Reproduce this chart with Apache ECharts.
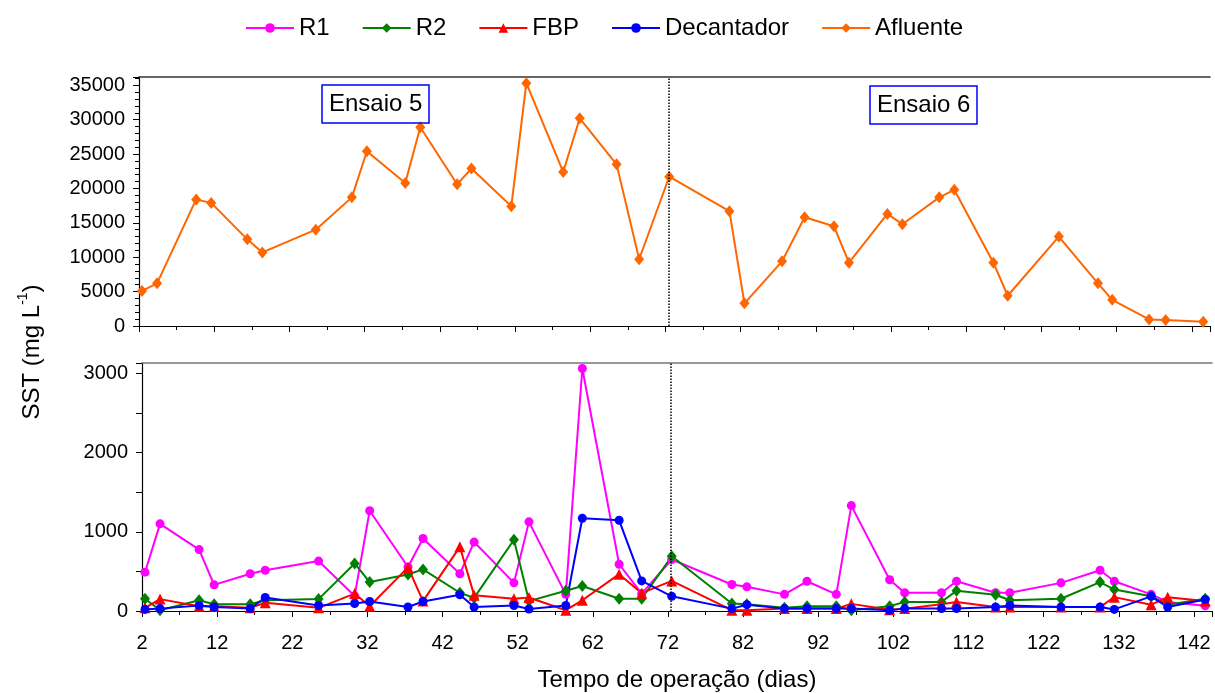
<!DOCTYPE html>
<html>
<head>
<meta charset="utf-8">
<script src="https://cdn.jsdelivr.net/npm/echarts@6/dist/echarts.min.js"></script>
<style>
html,body{margin:0;padding:0;background:#fff;}
#chart{width:1215px;height:693px;}
</style>
</head>
<body>
<div id="chart"></div>
<script>
// ---- data ----
const days = [2.4, 4.4, 9.6, 11.6, 16.4, 18.4, 25.5, 30.3, 32.3, 37.4, 39.4, 44.3, 46.2, 51.5, 53.5, 58.4, 60.6, 65.5, 68.5, 72.5,
              80.5, 82.5, 87.5, 90.5, 94.4, 96.4, 101.5, 103.5, 108.4, 110.4, 115.6, 117.5, 124.3, 129.5, 131.4, 136.3, 138.5, 143.5];
const afluente = [5100, 6200, 18400, 17900, 12600, 10700, 14000, 18700, 25400, 20800, 28900, 20600, 22900, 17400, 35300, 22400, 30200, 23500, 9700, 21700,
                  16700, 3300, 9400, 15800, 14500, 9200, 16300, 14800, 18700, 19800, 9200, 4400, 13000, 6200, 3800, 950, 870, 630];
const r1 = [490, 1100, 775, 330, 470, 515, 630, 190, 1265, 555, 915, 470, 870, 355, 1125, 210, 3060, 590, 220, 650,
            335, 305, 210, 375, 210, 1330, 395, 230, 230, 375, 230, 230, 355, 515, 375, 210, 115, 65];
const r2 = [155, 10, 135, 85, 85, 135, 150, 600, 365, 460, 525, 230, 165, 900, 125, 255, 315, 155, 155, 690,
            95, 85, 40, 60, 60, 10, 60, 115, 115, 255, 205, 135, 155, 365, 270, 185, 80, 155];
const fbp = [40, 150, 60, 60, 40, 105, 40, 220, 60, 550, 125, 810, 200, 155, 170, 10, 135, 465, 225, 380,
             10, 10, 30, 30, 30, 90, 15, 30, 85, 115, 50, 50, 50, 50, 175, 80, 175, 125];
const decantador = [20, 30, 70, 50, 30, 170, 70, 95, 120, 50, 120, 205, 50, 70, 25, 70, 1170, 1145, 380, 185,
                    30, 80, 30, 30, 30, 30, 10, 30, 30, 30, 50, 70, 50, 50, 20, 185, 50, 145];
const boundaryDay = 72.4;
const phaseLabels = ['Ensaio 5', 'Ensaio 6'];
const seriesNames = ['R1', 'R2', 'FBP', 'Decantador', 'Afluente'];

// ---- chart ----
const FONT = 'Liberation Sans, Arial, sans-serif';
const pairs = arr => days.map((d, i) => [d, arr[i]]);
const chart = echarts.init(document.getElementById('chart'), null, {renderer: 'canvas'});

const xCommon = {
  type: 'value', min: 2, max: 144.4, interval: 10,
  axisLine: {show: true, onZero: false, lineStyle: {color: '#000', width: 1.2}},
  axisTick: {show: true, length: 6, lineStyle: {color: '#000'}},
  minorTick: {show: true, splitNumber: 2, length: 4, lineStyle: {color: '#000'}},
  splitLine: {show: false}, minorSplitLine: {show: false}
};
const xLabelFmt = v => {
  const k = (v - 2) / 10;
  return Math.abs(k - Math.round(k)) < 1e-6 ? String(Math.round(v)) : '';
};
const frameAxis = (gi, color) => ({
  type: 'value', gridIndex: gi, position: 'top', min: 2, max: 144.4,
  axisLine: {show: true, onZero: false, lineStyle: {color: color, width: 1.5}},
  axisTick: {show: false}, axisLabel: {show: false}, splitLine: {show: false}
});
const dotted = {
  symbol: 'none', silent: true, label: {show: false},
  lineStyle: {type: 'dotted', color: '#000', width: 1.5},
  emphasis: {disabled: true},
  data: [{xAxis: boundaryDay}]
};
const lineSeries = (name, data, color, symbol, size, xi, yi, extra) => Object.assign({
  name: name, type: 'line', xAxisIndex: xi, yAxisIndex: yi, data: pairs(data),
  symbol: symbol, symbolSize: size, showAllSymbol: true,
  lineStyle: {color: color, width: 2}, itemStyle: {color: color},
  animation: false
}, extra || {});

chart.setOption({
  backgroundColor: '#fff',
  animation: false,
  textStyle: {fontFamily: FONT},
  title: [
    {text: phaseLabels[0], left: 322, top: 85, borderColor: '#0000FF', borderWidth: 1.5,
     padding: [6, 7, 6, 7], textStyle: {fontSize: 24, fontWeight: 'normal', color: '#000', fontFamily: FONT, lineHeight: 26}},
    {text: phaseLabels[1], left: 870, top: 86, borderColor: '#0000FF', borderWidth: 1.5,
     padding: [6, 7, 6, 7], textStyle: {fontSize: 24, fontWeight: 'normal', color: '#000', fontFamily: FONT, lineHeight: 26}}
  ],
  legend: {
    data: seriesNames, left: 240, top: 11, itemWidth: 48, itemHeight: 12, itemGap: 32,
    textStyle: {fontSize: 24, color: '#000', fontFamily: FONT}
  },
  grid: [
    {left: 139, width: 1071, top: 77, height: 249},
    {left: 142, width: 1071, top: 363, height: 248}
  ],
  xAxis: [
    Object.assign({}, xCommon, {gridIndex: 0, axisLabel: {show: false}}),
    Object.assign({}, xCommon, {gridIndex: 1,
      axisLabel: {show: true, formatter: xLabelFmt, margin: 22, fontSize: 20, color: '#000', fontFamily: FONT},
      name: 'Tempo de operação (dias)', nameLocation: 'middle', nameGap: 57,
      nameTextStyle: {fontSize: 24, color: '#000', fontFamily: FONT}}),
    frameAxis(0, '#333'),
    frameAxis(1, '#777')
  ],
  yAxis: [
    {type: 'value', gridIndex: 0, min: 0, max: 36200, interval: 5000,
     axisLine: {show: true, onZero: false, lineStyle: {color: '#000', width: 1.2}},
     axisTick: {show: true, length: 6, lineStyle: {color: '#000'}},
     minorTick: {show: true, splitNumber: 5, length: 4, lineStyle: {color: '#000'}},
     splitLine: {show: false},
     axisLabel: {fontSize: 20, color: '#000', margin: 14, fontFamily: FONT,
                 formatter: v => (v % 5000 === 0 ? String(v) : '')}},
    {type: 'value', gridIndex: 1, min: 0, max: 3130, interval: 1000,
     axisLine: {show: true, onZero: false, lineStyle: {color: '#000', width: 1.2}},
     axisTick: {show: true, length: 6, lineStyle: {color: '#000'}},
     minorTick: {show: true, splitNumber: 2, length: 6, lineStyle: {color: '#000'}},
     splitLine: {show: false},
     axisLabel: {fontSize: 20, color: '#000', margin: 14, fontFamily: FONT,
                 formatter: v => (v % 1000 === 0 ? String(v) : '')}}
  ],
  graphic: [{
    type: 'text', x: 30, y: 352, rotation: Math.PI / 2,
    style: {
      text: '{n|SST (mg L}{s|-1}{n|)}',
      textAlign: 'center', textVerticalAlign: 'middle',
      rich: {
        n: {fontSize: 24, fontFamily: FONT, fill: '#000', color: '#000', lineHeight: 28, verticalAlign: 'bottom'},
        s: {fontSize: 14, fontFamily: FONT, fill: '#000', color: '#000', lineHeight: 28, verticalAlign: 'top', padding: [0, 0, 12, 0]}
      }
    }
  }],
  series: [
    lineSeries('R1', r1, '#FF00FF', 'circle', 9, 1, 1, {markLine: dotted}),
    lineSeries('R2', r2, '#008000', 'diamond', [10, 12], 1, 1),
    lineSeries('FBP', fbp, '#FF0000', 'triangle', 11, 1, 1),
    lineSeries('Decantador', decantador, '#0000FF', 'circle', 9, 1, 1),
    lineSeries('Afluente', afluente, '#FF6600', 'diamond', [10, 12], 0, 0, {markLine: dotted})
  ]
});
</script>
</body>
</html>
